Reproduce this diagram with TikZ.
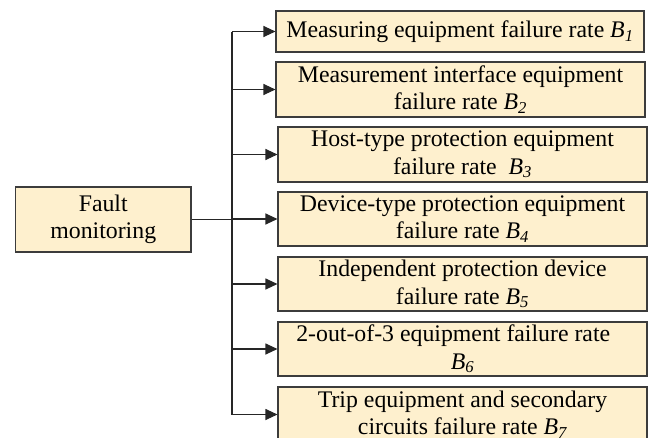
\documentclass[tikz,border=0pt]{standalone}
\usepackage{fontspec}
\setmainfont{Liberation Serif}
\usetikzlibrary{arrows.meta,calc}
\definecolor{boxfill}{RGB}{254,240,206}
\definecolor{boxline}{RGB}{60,60,60}
\newcommand{\rate}[1]{\textit{B}\textsubscript{\itshape #1}}
\tikzset{
  x=1pt, y=-1pt,
  box/.style={draw=boxline, fill=boxfill, line width=1.1pt, inner sep=0pt,
    align=center, font=\fontsize{23.8}{27.5}\selectfont},
  feed/.style={line width=1.1pt, draw=black!85, -{Triangle[length=12pt,width=11pt]}},
  bus/.style={line width=1.1pt, draw=black!85}
}
\begin{document}
\begin{tikzpicture}
\useasboundingbox (0,0) rectangle (650,437);
\clip (0,0) rectangle (650,437);

% root node
\node[box, minimum width=175.5pt, minimum height=65pt] (fault) at (103.25,219.5)
  {Fault\\monitoring};

% failure-rate boxes
\node[box, minimum width=368pt, minimum height=41pt] (b1) at (460,31.5)
  {Measuring equipment failure rate \rate{1}};
\node[box, minimum width=369pt, minimum height=55pt] (b2) at (460.5,89.5)
  {Measurement interface equipment\\failure rate \rate{2}};
\node[box, minimum width=369pt, minimum height=55pt] (b3) at (462.5,154.5)
  {Host-type protection equipment\\failure rate~ \rate{3}};
\node[box, minimum width=369pt, minimum height=54pt] (b4) at (462.5,219)
  {Device-type protection equipment\\failure rate \rate{4}};
\node[box, minimum width=369pt, minimum height=54pt] (b5) at (462.5,284)
  {Independent protection device\\failure rate \rate{5}};
\node[box, minimum width=369pt, minimum height=54pt] (b6) at (462.5,349)
  {2-out-of-3 equipment failure rate\phantom{m}\\\rate{6}};
\node[box, minimum width=369pt, minimum height=55pt] (b7) at (462.5,414.5)
  {Trip equipment and secondary\\circuits failure rate \rate{7}};

% distribution bus
\coordinate (busx) at (232,0);
\draw[bus] (b1.west -| busx) -- (b7.west -| busx);
\draw[bus] (fault.east) -- (fault.east -| busx);
\foreach \b in {b1,b2,b3,b4,b5,b6,b7}
  \draw[feed] (\b.west -| busx) -- (\b.west);
\end{tikzpicture}
\end{document}
